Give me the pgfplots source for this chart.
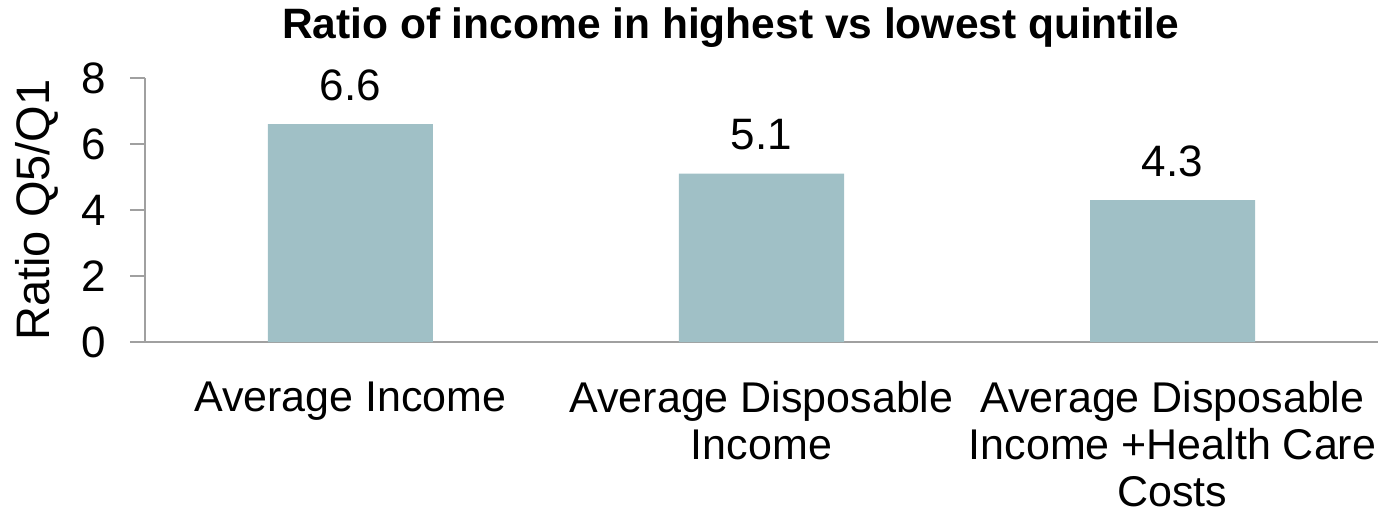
\documentclass[border=0pt]{standalone}
\usepackage{pgfplots}
\pgfplotsset{compat=1.18}
\usepackage{fontspec}
\setmainfont{Liberation Sans}
\definecolor{barc}{HTML}{A0C0C6}
\definecolor{axc}{HTML}{A0A0A0}
\begin{document}
\begin{tikzpicture}[x=1pt,y=1pt]
\path[use as bounding box] (-145,-172) rectangle (1233,342);
\begin{axis}[
  at={(0,0)}, anchor=south west,
  scale only axis, width=1233pt, height=264pt,
  xmin=-0.5, xmax=2.5, ymin=0, ymax=8,
  axis x line*=bottom, axis y line*=left,
  axis line style={axc, line width=1.5pt, -},
  ytick={0,2,4,6,8},
  /pgf/number format/assume math mode=true,
  y tick style={axc, line width=1.5pt},
  major tick length=15pt,
  tick align=outside,
  xtick={0,1,2},
  xticklabels={Average Income, Average Disposable\\Income, Average Disposable\\Income +Health Care\\Costs},
  x tick style={draw=none},
  extra x ticks={-0.5,0.5,1.5,2.5},
  extra x tick labels={},
  extra x tick style={tick style={axc, line width=1.5pt, draw=axc}, major tick length=14pt},
  x tick label style={font=\fontsize{43}{47}\selectfont, align=center, yshift=-21pt},
  y tick label style={font=\fontsize{44}{48}\selectfont, xshift=-20pt},
  ylabel={Ratio Q5/Q1},
  ylabel style={font=\fontsize{47}{50}\selectfont, at={(axis description cs:0,0.5)}, anchor=center, rotate=0, yshift=108pt},
  nodes near coords,
  every node near coord/.append style={font=\fontsize{44}{48}\selectfont, black, yshift=20pt},
  point meta=explicit symbolic,
  clip=false,
]
\addplot[ybar, bar width=165pt, fill=barc, draw=none] coordinates {(0,6.6)[6.6] (1,5.1)[5.1] (2,4.3)[4.3]};
\node[font=\bfseries\fontsize{42.5}{46}\selectfont, anchor=center] at (rel axis cs:0.475,1) [yshift=50pt] {Ratio of income in highest vs lowest quintile};
\end{axis}
\end{tikzpicture}
\end{document}
